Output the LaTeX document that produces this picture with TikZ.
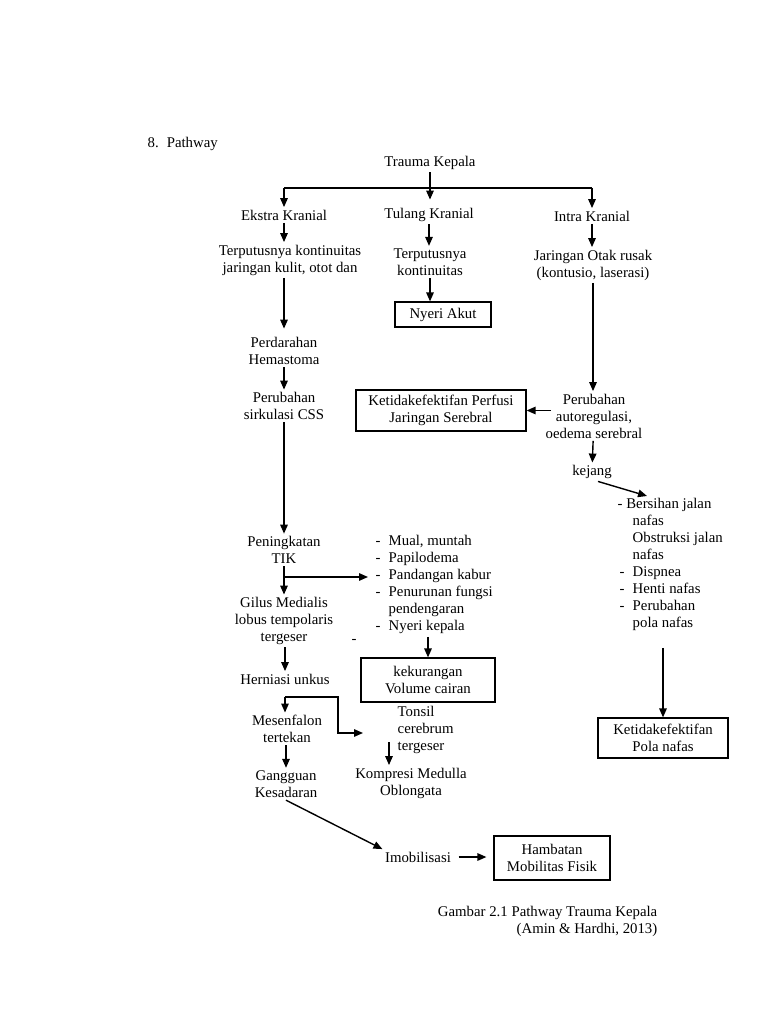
\documentclass[tikz,border=0pt]{standalone}
\usepackage{fontspec}
\setmainfont{Liberation Serif}
\usetikzlibrary{arrows.meta}

\begin{document}
\begin{tikzpicture}[x=1pt,y=-1pt,line width=1.4pt,
  txt/.style={font=\fontsize{14.8}{17}\selectfont,align=center,inner sep=2pt},
  box/.style={txt,draw,line width=1.2pt,inner sep=0pt},
  arr/.style={-{Stealth[length=9pt,width=7.5pt,inset=0pt]}}]
\useasboundingbox[fill=white] (0,0) rectangle (768,1024);
\node[txt,anchor=west] (title) at (145,144) {8.\hspace{8pt}Pathway};
\node[txt] (trauma) at (430,163) {Trauma Kepala};
\node[txt] (ekstra) at (284,215) {Ekstra Kranial};
\node[txt] (tulang) at (429,215) {Tulang Kranial};
\node[txt] (intra) at (592,216) {Intra Kranial};
\node[txt] (putus1) at (290,260) {Terputusnya kontinuitas\\jaringan kulit, otot dan};
\node[txt] (putus2) at (430,262) {Terputusnya\\kontinuitas};
\node[txt] (otak) at (593,265) {Jaringan Otak rusak\\(kontusio, laserasi)};
\node[box,minimum width=96pt,minimum height=25pt] (nyeri) at (443,314.5) {Nyeri Akut};
\node[txt] (perdarahan) at (284,351) {Perdarahan\\Hemastoma};
\node[txt] (sirkulasi) at (284,406) {Perubahan\\sirkulasi CSS};
\node[box,minimum width=170pt,minimum height=41pt] (perfusi) at (441,410.5) {Ketidakefektifan Perfusi\\Jaringan Serebral};
\node[txt] (autoreg) at (594,416) {Perubahan\\autoregulasi,\\oedema serebral};
\node[txt] (kejang) at (592,472) {kejang};
\node[txt,align=left,anchor=north west] (nafaslist) at (615,496) {- Bersihan jalan\\
  \hspace*{15pt}nafas\\ \hspace*{15pt}Obstruksi jalan\\ \hspace*{15pt}nafas\\
  \makebox[15pt][l]{\hspace{2pt}-}Dispnea\\ \makebox[15pt][l]{\hspace{2pt}-}Henti nafas\\
  \makebox[15pt][l]{\hspace{2pt}-}Perubahan\\ \hspace*{15pt}pola nafas};
\node[box,minimum width=130pt,minimum height=40pt] (polanafas) at (663,738) {Ketidakefektifan\\Pola nafas};
\node[txt] (tik) at (284,550) {Peningkatan\\TIK};
\node[txt,align=left,anchor=north west] (gejala) at (373,533) {\makebox[13pt][l]{-}Mual, muntah\\
  \makebox[13pt][l]{-}Papilodema\\ \makebox[13pt][l]{-}Pandangan kabur\\
  \makebox[13pt][l]{-}Penurunan fungsi\\ \hspace*{13pt}pendengaran\\ \makebox[13pt][l]{-}Nyeri kepala};
\node[txt] (stray) at (354,641) {-};
\node[box,minimum width=134pt,minimum height=44pt] (cairan) at (428,680) {kekurangan\\Volume cairan};
\node[txt] (gilus) at (284,621) {Gilus Medialis\\lobus tempolaris\\tergeser};
\node[txt] (herniasi) at (285,679) {Herniasi unkus};
\node[txt] (mesenfalon) at (287,729) {Mesenfalon\\tertekan};
\node[txt] (gangguan) at (286,784) {Gangguan\\Kesadaran};
\node[txt,align=left,anchor=north west] (tonsil) at (395,704) {Tonsil\\cerebrum\\tergeser};
\node[txt] (kompresi) at (411,783) {Kompresi Medulla\\Oblongata};
\node[txt] (imobil) at (418,857) {Imobilisasi};
\node[box,minimum width=116pt,minimum height=44pt] (hambatan) at (552,858) {Hambatan\\Mobilitas Fisik};
\node[txt,align=right,anchor=north east] (caption) at (660,904) {Gambar 2.1 Pathway Trauma Kepala\\(Amin \& Hardhi, 2013)};
% branches from the top
\coordinate (split) at (430,188);
\draw[arr,shorten >=6pt] (trauma.south) -- (trauma.south |- tulang.north);
\draw (ekstra.north |- split) -- (intra.north |- split);
\draw[arr] (ekstra.north |- split) -- (ekstra.north);
\draw[arr] (intra.north |- split) -- (intra.north);
\draw[arr] (ekstra.south) -- (ekstra.south |- putus1.north);
\draw[arr] (tulang.south) -- (tulang.south |- putus2.north);
\draw[arr] (intra.south) -- (intra.south |- otak.north);
% left column
\draw[arr,shorten >=6pt] (perdarahan.north |- putus1.south) -- (perdarahan.north);
\draw[arr] (perdarahan) -- (sirkulasi);
\draw[arr] (sirkulasi.south) -- (tik.north);
\coordinate (tikfork) at (284,577);
\draw[arr] (tik.south) -- (gilus.north);
\draw[arr,shorten >=5pt] (tikfork) -- (tikfork -| gejala.west);
\draw[arr] (herniasi.north |- gilus.south) -- (herniasi.north);
\coordinate (hernfork) at (285,697);
\coordinate (hernbend) at (338,733);
\draw[arr] (hernfork) -- (hernfork |- mesenfalon.north);
\draw[arr,shorten >=32pt] (hernfork) -| (hernbend) -- (hernbend -| tonsil.west);
\draw[arr] (gangguan.north |- mesenfalon.south) -- (gangguan.north);
\draw[arr] (gangguan.south) -- (imobil.north west);
\draw[arr,shorten <=5pt,shorten >=7pt] (imobil.east) -- (imobil.east -| hambatan.west);
% middle column
\draw[arr] (putus2.south) -- (putus2.south |- nyeri.north);
\draw[arr] (gejala.south -| cairan.north) -- (cairan.north);
\coordinate (tonsilleft) at (389,742);
\draw[arr] (tonsilleft) -- (tonsilleft |- kompresi.north);
% right column
\draw[arr] (otak.south) -- (otak.south |- autoreg.north);
\draw[arr,shorten <=-8pt] (autoreg.west |- perfusi.east) -- (perfusi.east);
\draw[arr] (autoreg) -- (kejang);
\draw[arr] ([xshift=6pt]kejang.south) -- ([xshift=32pt]nafaslist.north west);
\draw[arr,shorten <=14pt] (nafaslist.south -| polanafas.north) -- (polanafas.north);
\end{tikzpicture}
\end{document}
